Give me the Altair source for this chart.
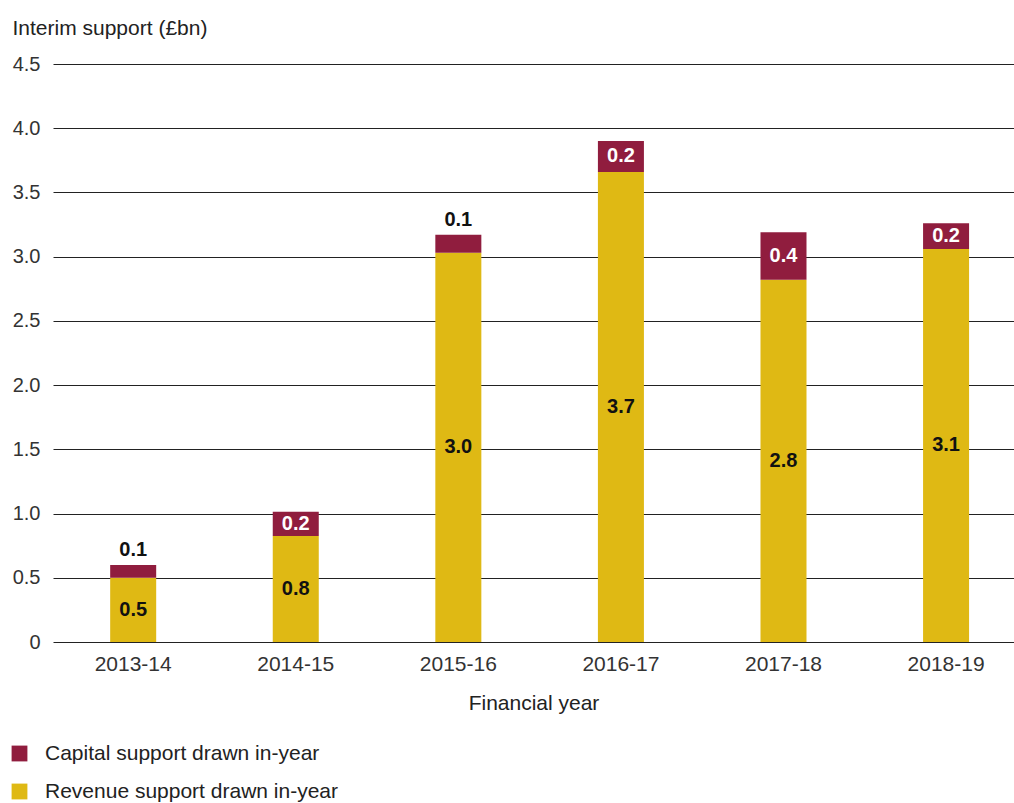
import altair as alt
import pandas as pd

years = ["2013-14", "2014-15", "2015-16", "2016-17", "2017-18", "2018-19"]
revenue = [0.50, 0.825, 3.03, 3.66, 2.82, 3.06]
capital = [0.10, 0.19, 0.14, 0.24, 0.37, 0.20]
series_names = ["Capital support drawn in-year", "Revenue support drawn in-year"]
series_colors = ["#901d3e", "#dfb914"]
y_ticks = [0, 0.5, 1.0, 1.5, 2.0, 2.5, 3.0, 3.5, 4.0, 4.5]

long_rows = []
for y, r, c in zip(years, revenue, capital):
    long_rows.append({"year": y, "series": series_names[1], "value": r, "ord": 0})
    long_rows.append({"year": y, "series": series_names[0], "value": c, "ord": 1})
long_df = pd.DataFrame(long_rows)

wide_df = pd.DataFrame({"year": years, "revenue": revenue, "capital": capital})
wide_df["total"] = wide_df["revenue"] + wide_df["capital"]
wide_df["rev_mid"] = wide_df["revenue"] / 2
wide_df["cap_mid"] = wide_df["revenue"] + wide_df["capital"] / 2
wide_df["inside"] = wide_df["capital"] >= 0.17

FONT = "Liberation Sans"

x_enc = alt.X(
    "year:N",
    sort=years,
    scale=alt.Scale(paddingInner=0.717, paddingOuter=0.314, align=0.56),
    axis=alt.Axis(
        title="Financial year",
        labelAngle=0,
        labelFontSize=21,
        labelColor="#333333",
        labelPadding=11,
        ticks=False,
        domain=False,
        titleFontSize=21,
        titleFontWeight="normal",
        titleColor="#222222",
        titleY=67,
        titleBaseline="alphabetic",
    ),
)

bars = alt.Chart(long_df).mark_bar().encode(
    x=x_enc,
    y=alt.Y(
        "value:Q",
        stack="zero",
        scale=alt.Scale(domain=[0, 4.5], nice=False),
        axis=alt.Axis(
            values=y_ticks,
            labelExpr="datum.value == 0 ? '0' : format(datum.value, '.1f')",
            labelFontSize=20,
            labelColor="#333333",
            labelPadding=13,
            ticks=False,
            domain=False,
            grid=True,
            gridColor="#222222",
            gridWidth=1,
            title="Interim support (£bn)",
            titleAngle=0,
            titleAlign="left",
            titleBaseline="alphabetic",
            titleX=-41,
            titleY=-30,
            titleFontSize=21,
            titleFontWeight="normal",
            titleColor="#222222",
        ),
    ),
    color=alt.Color(
        "series:N",
        scale=alt.Scale(domain=series_names, range=series_colors),
        legend=alt.Legend(
            title=None,
            orient="none",
            legendX=-44,
            legendY=679,
            direction="vertical",
            symbolType="square",
            symbolSize=250,
            symbolStrokeWidth=0,
            symbolOpacity=1,
            labelFontSize=21,
            labelColor="#222222",
            labelOffset=15,
            labelLimit=0,
            rowPadding=16,
        ),
    ),
    order=alt.Order("ord:Q"),
)

rev_text = alt.Chart(wide_df).mark_text(
    fontSize=20, fontWeight="bold", color="#111111", baseline="middle"
).encode(
    x=alt.X("year:N", sort=years),
    y=alt.Y("rev_mid:Q"),
    text=alt.Text("revenue:Q", format=".1f"),
)

cap_in = alt.Chart(wide_df).transform_filter("datum.inside").mark_text(
    fontSize=20, fontWeight="bold", color="#ffffff", baseline="middle"
).encode(
    x=alt.X("year:N", sort=years),
    y=alt.Y("cap_mid:Q"),
    text=alt.Text("capital:Q", format=".1f"),
)

cap_out = alt.Chart(wide_df).transform_filter("!datum.inside").mark_text(
    fontSize=20, fontWeight="bold", color="#111111", baseline="alphabetic", dy=-9
).encode(
    x=alt.X("year:N", sort=years),
    y=alt.Y("total:Q"),
    text=alt.Text("capital:Q", format=".1f"),
)

chart = (
    alt.layer(bars, rev_text, cap_in, cap_out)
    .properties(
        width=961,
        height=578,
        autosize=alt.AutoSizeParams(type="none"),
        padding={"left": 53, "top": 64, "right": 0, "bottom": 161},
    )
    .configure(font=FONT)
    .configure_view(stroke=None)
)

chart.save("out.html", embed_options={"renderer": "svg", "actions": False})
